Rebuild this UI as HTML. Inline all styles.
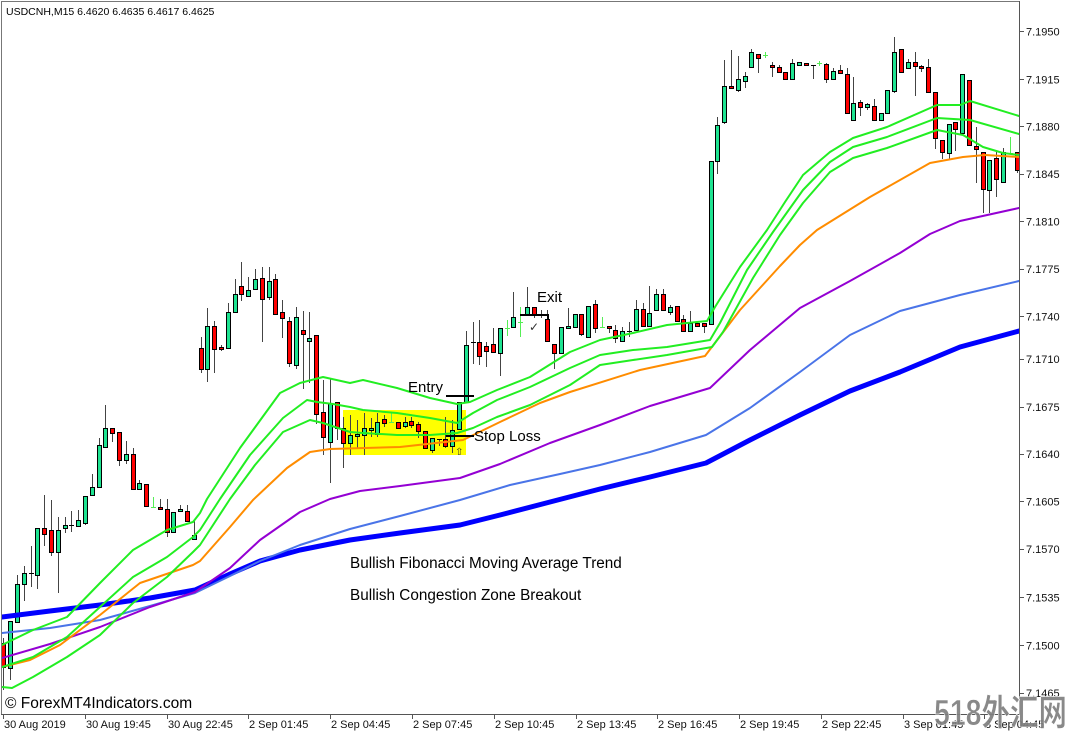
<!DOCTYPE html>
<html><head><meta charset="utf-8">
<style>
html,body{margin:0;padding:0;background:#fff;}
svg{display:block;}
text{font-family:"Liberation Sans",Arial,sans-serif;}
</style></head>
<body>
<svg width="1068" height="735" viewBox="0 0 1068 735" xmlns="http://www.w3.org/2000/svg">
<defs><clipPath id="pa"><rect x="2" y="2" width="1017.5" height="712"/></clipPath></defs>
<rect x="0" y="0" width="1068" height="735" fill="#fff"/>
<g clip-path="url(#pa)">
<rect x="343" y="410" width="123" height="45" fill="#ffff00"/>
<path fill="none" stroke="#444" stroke-width="1" d="M3.5 638V690M10.5 621V680M17.5 575V622M24.5 566V601M31.5 546V587M37.5 528V589M44.5 495V546M51.5 500V556M58.5 517V593M65.5 517V533M71.5 511V532M78.5 510V526M85.5 496V525M92.5 474V495M99.5 438V487M105.5 405V448M112.5 428V442M119.5 432V466M126.5 441V464M133.5 448V489M139.5 480V489M146.5 484V507M160.5 499V510M167.5 499V537M173.5 512V532M180.5 505V511M187.5 505V521M194.5 521V539M201.5 337V373M207.5 308V382M214.5 321V373M221.5 345V351M228.5 303V348M235.5 279V312M241.5 262V301M248.5 277V297M255.5 269V289M262.5 267V342M269.5 267V300M275.5 274V314M282.5 300V338M289.5 317V367M296.5 307V369M303.5 311V389M309.5 312V383M316.5 335V424M323.5 380V455M330.5 378V483M337.5 402V440M343.5 417V468M350.5 415V455M357.5 420V448M364.5 413V455M371.5 418V437M377.5 413V437M384.5 415V427M398.5 422V428M405.5 417V428M411.5 417V428M418.5 422V438M425.5 431V448M432.5 438V453M439.5 439V446M445.5 417V448M452.5 420V453M459.5 402V429M466.5 331V402M473.5 322V364M479.5 320V365M486.5 342V367M493.5 328V352M500.5 328V376M513.5 292V328M527.5 287V315M534.5 307V318M541.5 310V318M547.5 310V341M554.5 344V369M561.5 327V353M568.5 308V328M575.5 314V327M581.5 314V336M588.5 306V337M595.5 300V333M609.5 326V333M615.5 325V343M622.5 327V342M629.5 322V337M636.5 300V330M643.5 303V326M649.5 286V326M656.5 289V311M663.5 289V310M670.5 305V315M677.5 306V321M683.5 315V331M690.5 311V331M697.5 323V327M704.5 323V333M711.5 161V324M717.5 117V174M724.5 60V124M731.5 50V88M738.5 56V92M745.5 72V88M751.5 49V67M758.5 54V73M772.5 62V77M779.5 65V72M785.5 72V79M792.5 59V79M799.5 62V65M806.5 63V65M813.5 65V79M826.5 63V83M833.5 68V79M840.5 65V73M847.5 68V113M853.5 77V120M860.5 100V116M867.5 103V110M874.5 99V120M881.5 113V120M887.5 90V113M894.5 37V93M901.5 49V72M908.5 59V68M915.5 52V96M921.5 65V72M928.5 59V92M935.5 92V149M942.5 140V159M949.5 124V160M955.5 122V151M962.5 74V133M969.5 80V145M976.5 127V183M983.5 152V213M989.5 160V213M996.5 150V197M1003.5 148V182M1017.5 152V173"/>
<path fill="none" stroke="#000" stroke-width="1" d="M29 573.5h5M69 525.5h5M437 439.5h5M471 342.5h5M539 315.5h5M627 331.5h5M811 65.5h5"/>
<path fill="none" stroke="#55ee55" stroke-width="1" d="M153.5 497V507M151 507.5h5M391.5 413V422M389 422.5h5M507.5 320V336M505 328.5h5M520.5 307V337M518 322.5h5M602.5 317V327M600 327.5h5M765.5 52V58M763 55.5h5M819.5 61V66M817 63.5h5M1010.5 137V153M1008 153.5h5"/>
<g fill="#1ee391" stroke="#000" stroke-width="1">
<rect x="8.5" y="621.5" width="4" height="47"/><rect x="15.5" y="584.5" width="4" height="38"/><rect x="22.5" y="573.5" width="4" height="11"/><rect x="35.5" y="528.5" width="4" height="47"/><rect x="56.5" y="530.5" width="4" height="22"/><rect x="63.5" y="525.5" width="4" height="3"/><rect x="76.5" y="520.5" width="4" height="6"/><rect x="83.5" y="496.5" width="4" height="27"/><rect x="90.5" y="487.5" width="4" height="8"/><rect x="97.5" y="445.5" width="4" height="42"/><rect x="103.5" y="428.5" width="4" height="19"/><rect x="124.5" y="454.5" width="4" height="6"/><rect x="137.5" y="483.5" width="4" height="6"/><rect x="171.5" y="512.5" width="4" height="20"/><rect x="178.5" y="509.5" width="4" height="2"/><rect x="192.5" y="535.5" width="4" height="4"/><rect x="205.5" y="326.5" width="4" height="43"/><rect x="226.5" y="312.5" width="4" height="36"/><rect x="233.5" y="294.5" width="4" height="18"/><rect x="246.5" y="290.5" width="4" height="6"/><rect x="253.5" y="279.5" width="4" height="10"/><rect x="267.5" y="281.5" width="4" height="16"/><rect x="294.5" y="317.5" width="4" height="48"/><rect x="307.5" y="338.5" width="4" height="3"/><rect x="328.5" y="403.5" width="4" height="39"/><rect x="348.5" y="435.5" width="4" height="8"/><rect x="355.5" y="434.5" width="4" height="2"/><rect x="362.5" y="428.5" width="4" height="7"/><rect x="369.5" y="428.5" width="4" height="2"/><rect x="375.5" y="422.5" width="4" height="12"/><rect x="403.5" y="422.5" width="4" height="4"/><rect x="430.5" y="438.5" width="4" height="12"/><rect x="450.5" y="430.5" width="4" height="16"/><rect x="457.5" y="402.5" width="4" height="27"/><rect x="464.5" y="345.5" width="4" height="57"/><rect x="498.5" y="328.5" width="4" height="25"/><rect x="511.5" y="317.5" width="4" height="10"/><rect x="525.5" y="307.5" width="4" height="8"/><rect x="559.5" y="327.5" width="4" height="26"/><rect x="566.5" y="326.5" width="4" height="2"/><rect x="573.5" y="314.5" width="4" height="13"/><rect x="586.5" y="306.5" width="4" height="31"/><rect x="620.5" y="331.5" width="4" height="10"/><rect x="634.5" y="309.5" width="4" height="21"/><rect x="647.5" y="313.5" width="4" height="13"/><rect x="654.5" y="294.5" width="4" height="16"/><rect x="668.5" y="307.5" width="4" height="5"/><rect x="688.5" y="323.5" width="4" height="8"/><rect x="709.5" y="161.5" width="4" height="163"/><rect x="715.5" y="125.5" width="4" height="36"/><rect x="722.5" y="86.5" width="4" height="36"/><rect x="736.5" y="79.5" width="4" height="11"/><rect x="743.5" y="76.5" width="4" height="5"/><rect x="749.5" y="52.5" width="4" height="15"/><rect x="790.5" y="63.5" width="4" height="16"/><rect x="797.5" y="62.5" width="4" height="3"/><rect x="831.5" y="71.5" width="4" height="8"/><rect x="851.5" y="103.5" width="4" height="17"/><rect x="865.5" y="104.5" width="4" height="3"/><rect x="879.5" y="113.5" width="4" height="7"/><rect x="885.5" y="90.5" width="4" height="23"/><rect x="892.5" y="52.5" width="4" height="39"/><rect x="906.5" y="62.5" width="4" height="6"/><rect x="947.5" y="124.5" width="4" height="29"/><rect x="960.5" y="74.5" width="4" height="59"/><rect x="987.5" y="160.5" width="4" height="30"/><rect x="1001.5" y="152.5" width="4" height="30"/>
</g>
<g fill="#ff0000" stroke="#000" stroke-width="1">
<rect x="1.5" y="643.5" width="4" height="24"/><rect x="42.5" y="528.5" width="4" height="6"/><rect x="49.5" y="530.5" width="4" height="22"/><rect x="110.5" y="428.5" width="4" height="5"/><rect x="117.5" y="432.5" width="4" height="28"/><rect x="131.5" y="454.5" width="4" height="35"/><rect x="144.5" y="484.5" width="4" height="22"/><rect x="158.5" y="507.5" width="4" height="2"/><rect x="165.5" y="509.5" width="4" height="23"/><rect x="185.5" y="511.5" width="4" height="10"/><rect x="199.5" y="348.5" width="4" height="21"/><rect x="212.5" y="326.5" width="4" height="23"/><rect x="219.5" y="347.5" width="4" height="2"/><rect x="239.5" y="286.5" width="4" height="8"/><rect x="260.5" y="278.5" width="4" height="21"/><rect x="273.5" y="279.5" width="4" height="35"/><rect x="280.5" y="312.5" width="4" height="6"/><rect x="287.5" y="321.5" width="4" height="42"/><rect x="301.5" y="330.5" width="4" height="4"/><rect x="314.5" y="335.5" width="4" height="79"/><rect x="321.5" y="412.5" width="4" height="25"/><rect x="335.5" y="402.5" width="4" height="26"/><rect x="341.5" y="428.5" width="4" height="15"/><rect x="382.5" y="419.5" width="4" height="4"/><rect x="396.5" y="422.5" width="4" height="6"/><rect x="409.5" y="421.5" width="4" height="4"/><rect x="416.5" y="424.5" width="4" height="7"/><rect x="423.5" y="431.5" width="4" height="17"/><rect x="443.5" y="439.5" width="4" height="7"/><rect x="477.5" y="342.5" width="4" height="14"/><rect x="484.5" y="346.5" width="4" height="5"/><rect x="491.5" y="344.5" width="4" height="8"/><rect x="532.5" y="307.5" width="4" height="8"/><rect x="545.5" y="319.5" width="4" height="22"/><rect x="552.5" y="344.5" width="4" height="9"/><rect x="579.5" y="314.5" width="4" height="20"/><rect x="593.5" y="304.5" width="4" height="24"/><rect x="607.5" y="326.5" width="4" height="2"/><rect x="613.5" y="330.5" width="4" height="8"/><rect x="641.5" y="309.5" width="4" height="17"/><rect x="661.5" y="294.5" width="4" height="16"/><rect x="675.5" y="306.5" width="4" height="15"/><rect x="681.5" y="319.5" width="4" height="12"/><rect x="695.5" y="323.5" width="4" height="3"/><rect x="702.5" y="323.5" width="4" height="3"/><rect x="729.5" y="86.5" width="4" height="2"/><rect x="756.5" y="54.5" width="4" height="4"/><rect x="770.5" y="65.5" width="4" height="2"/><rect x="777.5" y="67.5" width="4" height="5"/><rect x="783.5" y="72.5" width="4" height="7"/><rect x="804.5" y="63.5" width="4" height="2"/><rect x="824.5" y="64.5" width="4" height="15"/><rect x="838.5" y="70.5" width="4" height="3"/><rect x="845.5" y="74.5" width="4" height="39"/><rect x="858.5" y="102.5" width="4" height="5"/><rect x="872.5" y="106.5" width="4" height="14"/><rect x="899.5" y="49.5" width="4" height="23"/><rect x="913.5" y="62.5" width="4" height="4"/><rect x="919.5" y="66.5" width="4" height="2"/><rect x="926.5" y="67.5" width="4" height="25"/><rect x="933.5" y="92.5" width="4" height="46"/><rect x="940.5" y="140.5" width="4" height="12"/><rect x="953.5" y="122.5" width="4" height="7"/><rect x="967.5" y="80.5" width="4" height="65"/><rect x="974.5" y="146.5" width="4" height="3"/><rect x="981.5" y="152.5" width="4" height="37"/><rect x="994.5" y="158.5" width="4" height="21"/><rect x="1015.5" y="152.5" width="4" height="18"/>
</g>
<g fill="none" stroke-linejoin="round" stroke-linecap="round">
<polyline stroke="#0000ff" stroke-width="5" points="2,617 50,611 100,605 150,598 195,590 230,574 260,561 300,550 350,540 400,533 460,525 500,515 550,502 600,489 650,477 706,463 750,440 800,415 850,391 900,372 960,347 1019,331"/>
<polyline stroke="#4a74e8" stroke-width="2" points="2,633 50,628 100,620 150,606 195,593 230,576 260,561 300,545 350,529 400,516 460,500 510,485 560,474 600,465 650,452 706,435 750,408 800,372 850,335 900,311 960,295 1019,281"/>
<polyline stroke="#9400d3" stroke-width="2" points="2,658 50,644 100,627 150,607 195,592 230,568 260,540 300,512 330,499 360,491 400,486 460,478 500,464 550,443 600,425 650,406 710,388 750,350 800,308 850,281 900,253 930,234 960,221 1019,208"/>
<polyline stroke="#ff8c00" stroke-width="2" points="2,667 30,660 60,645 100,615 140,583 193,565 200,561 230,527 253,500 287,468 310,452 330,449 400,447 463,440 500,422 540,403 570,392 640,370 705,356 740,310 780,266 800,245 817,230 870,197 930,163 963,157 985,155 1019,157"/>
<polyline stroke="#22ee22" stroke-width="2" points="2,645 33,630 67,617 100,583 133,550 167,530 193,522 200,513 207,499 240,448 280,393 300,383 323,377 350,383 363,380 397,388 430,398 457,404 470,402 497,390 530,377 570,352 600,340 633,333 667,325 707,321 715,307 740,267 767,230 785,202 803,175 830,152 853,138 887,127 937,105 960,105 970,101 1019,116"/>
<polyline stroke="#22ee22" stroke-width="2" points="2,667 33,657 67,637 100,607 133,577 167,557 193,537 200,530 220,499 250,455 283,418 307,400 317,402 333,404 350,407 363,410 397,413 430,418 457,423 473,413 497,400 530,387 570,368 600,355 633,350 667,347 710,340 720,323 747,270 773,232 803,190 830,162 853,147 887,137 937,118 970,120 1019,134"/>
<polyline stroke="#22ee22" stroke-width="2" points="2,687 12,688 33,677 67,657 100,635 133,603 167,577 193,552 200,545 230,499 255,465 283,432 310,420 323,423 350,432 363,433 397,435 430,435 457,433 473,428 497,417 530,405 570,385 600,365 633,360 667,355 712,347 723,332 753,278 780,235 803,203 830,172 853,158 887,148 937,130 963,135 983,147 1003,153 1019,155"/>
</g>
<path fill="none" stroke="#000" stroke-width="2" d="M446 396H474M446 436H474M520 315H548V319"/>
<text x="529" y="331" font-size="12" fill="#333" style="font-family:'DejaVu Sans',sans-serif">✓</text>
<text x="455" y="455" font-size="10" fill="#333" style="font-family:'DejaVu Sans',sans-serif">⇧</text>
<text x="408" y="392" font-size="15" fill="#000">Entry</text>
<text x="474" y="441" font-size="15" fill="#000">Stop Loss</text>
<text x="537" y="302" font-size="15" fill="#000">Exit</text>
<text x="350" y="568" font-size="15.3" fill="#000">Bullish Fibonacci Moving Average Trend</text>
<text x="350" y="600" font-size="15.3" fill="#000">Bullish Congestion Zone Breakout</text>
<text x="5" y="708" font-size="15.5" fill="#000">© ForexMT4Indicators.com</text>
<text x="6" y="15" font-size="10.5" fill="#000">USDCNH,M15  6.4620 6.4635 6.4617 6.4625</text>
</g>
<path fill="none" stroke="#777" stroke-width="1" d="M1.5 714.5V1.5H1019.5"/>
<path fill="none" stroke="#555" stroke-width="1" d="M1019.5 1V715M1 714.5H1020"/>
<path fill="none" stroke="#555" stroke-width="1" d="M1020 31.5h4M1020 79.5h4M1020 126.5h4M1020 174.5h4M1020 221.5h4M1020 269.5h4M1020 316.5h4M1020 359.5h4M1020 407.5h4M1020 454.5h4M1020 501.5h4M1020 549.5h4M1020 597.5h4M1020 645.5h4M1020 693.5h4M3.5 715v4M85.5 715v4M167.5 715v4M248.5 715v4M330.5 715v4M412.5 715v4M494.5 715v4M576.5 715v4M657.5 715v4M739.5 715v4M821.5 715v4M903.5 715v4M984.5 715v4"/>
<g font-size="11" fill="#111">
<text x="1026" y="35.5">7.1950</text>
<text x="1026" y="83.5">7.1915</text>
<text x="1026" y="130.5">7.1880</text>
<text x="1026" y="178">7.1845</text>
<text x="1026" y="225.5">7.1810</text>
<text x="1026" y="273">7.1775</text>
<text x="1026" y="320.5">7.1740</text>
<text x="1026" y="363">7.1710</text>
<text x="1026" y="411">7.1675</text>
<text x="1026" y="458">7.1640</text>
<text x="1026" y="505.5">7.1605</text>
<text x="1026" y="553">7.1570</text>
<text x="1026" y="601.5">7.1535</text>
<text x="1026" y="649.5">7.1500</text>
<text x="1026" y="697">7.1465</text>
<text x="4" y="728">30 Aug 2019</text>
<text x="86" y="728">30 Aug 19:45</text>
<text x="168" y="728">30 Aug 22:45</text>
<text x="249" y="728">2 Sep 01:45</text>
<text x="331" y="728">2 Sep 04:45</text>
<text x="413" y="728">2 Sep 07:45</text>
<text x="495" y="728">2 Sep 10:45</text>
<text x="577" y="728">2 Sep 13:45</text>
<text x="658" y="728">2 Sep 16:45</text>
<text x="740" y="728">2 Sep 19:45</text>
<text x="822" y="728">2 Sep 22:45</text>
<text x="904" y="728">3 Sep 01:45</text>
<text x="985" y="728">3 Sep 04:45</text>
</g>
<text x="934" y="725" font-size="36" font-weight="bold" fill="#7f7f7f" fill-opacity="0.92" stroke="#fff" stroke-width="0.6" textLength="133" lengthAdjust="spacingAndGlyphs" style="font-family:'Liberation Sans','Noto Sans CJK SC',sans-serif">518外汇网</text>
</svg>
</body></html>
